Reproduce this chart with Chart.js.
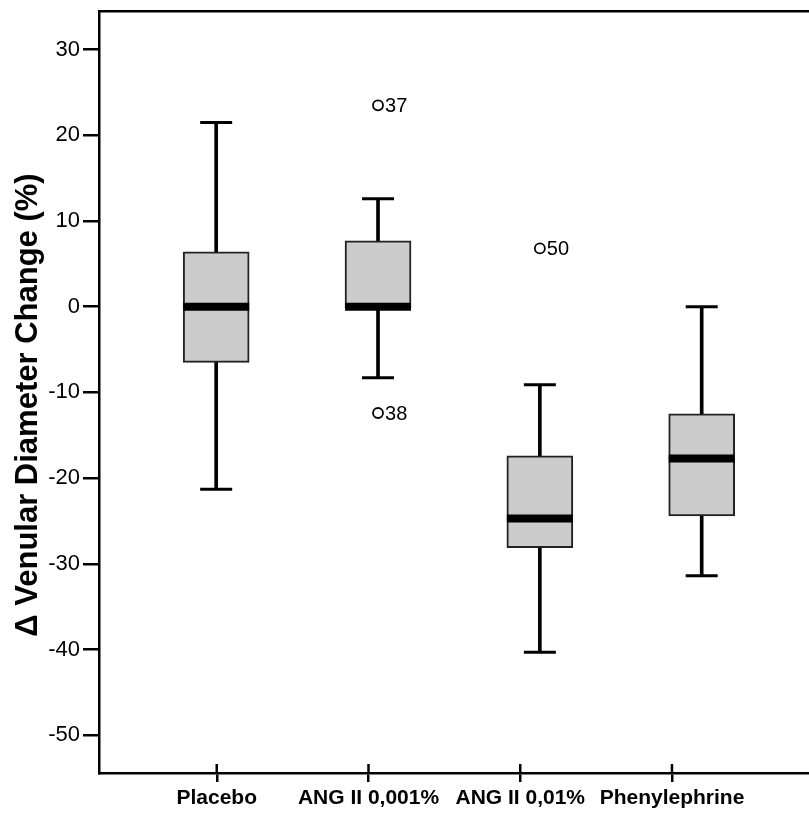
<!DOCTYPE html>
<html>
<head>
<meta charset="utf-8">
<script src="https://cdn.jsdelivr.net/npm/chart.js@4"></script>
<style>
    body { margin: 0; background: #fff; overflow: hidden; }
    .chart-box { width: 809px; height: 814px; }
</style>
</head>
<body>
<div class="chart-box"><canvas class="chart"></canvas></div>
<script>
// ----------data----------//
const groups = ['Placebo', 'ANG II 0,001%', 'ANG II 0,01%', 'Phenylephrine'];
const groupTicks = [1, 2, 3, 4];
const whiskerLow = [-21.3, -8.3, -40.3, -31.4];
const q1 = [-6.5, -0.1, -28.1, -24.4];
const median = [0, 0, -24.7, -17.7];
const q3 = [6.4, 7.7, -17.4, -12.5];
const whiskerHigh = [21.5, 12.6, -9.1, 0];
const outlierGroup = [2, 2, 3];
const outlierValue = [23.5, -12.4, 6.8];
const outlierLabel = ['37', '38', '50'];
const yTicks = [30, 20, 10, 0, -10, -20, -30, -40, -50];
const yTitle = '\u0394 Venular Diameter Change (%)';

const boxPos = groups.map((g, i) => i + 1);
const font = '"Liberation Sans", Arial, sans-serif';

//-----plugin: y title, inner half of the x tick marks, outlier case numbers-----//
const extraDraw = {
    id: 'extraDraw',
    afterDatasetsDraw(chart) {
        const ctx = chart.ctx;
        const meta = chart.getDatasetMeta(4);
        ctx.save();
        ctx.fillStyle = '#000';
        ctx.font = '20px ' + font;
        ctx.textAlign = 'left';
        ctx.textBaseline = 'middle';
        meta.data.forEach((el, i) => {
            ctx.fillText(outlierLabel[i], el.x + 7, el.y + 1);
        });
        ctx.restore();
    },
    afterDraw(chart) {
        const ctx = chart.ctx, xs = chart.scales.x, area = chart.chartArea;
        ctx.save();
        ctx.strokeStyle = '#000';
        ctx.lineWidth = 2.5;
        xs.ticks.forEach(t => {
            const px = xs.getPixelForValue(t.value);
            ctx.beginPath();
            ctx.moveTo(px, area.bottom - 9);
            ctx.lineTo(px, area.bottom);
            ctx.stroke();
        });
        // axis title, sits a little below the middle of the plot like the original
        ctx.translate(28, (area.top + area.bottom) / 2 + 13);
        ctx.rotate(-Math.PI / 2);
        ctx.fillStyle = '#000';
        ctx.font = 'bold 31px ' + font;
        ctx.textAlign = 'center';
        ctx.textBaseline = 'middle';
        ctx.fillText(yTitle, 0, 0);
        ctx.restore();
    }
};

const ctx = document.querySelector('.chart').getContext('2d');
const myChart = new Chart(ctx, {
    type: 'bar',
    data: {
        datasets: [{
            // whisker stems
            type: 'bar',
            xAxisID: 'xb',
            data: boxPos.map((x, i) => ({ x: x, y: [whiskerLow[i], whiskerHigh[i]] })),
            barThickness: 3,
            backgroundColor: '#000',
            grouped: false,
            order: 5
        }, {
            // boxes
            type: 'bar',
            xAxisID: 'xb',
            data: boxPos.map((x, i) => ({ x: x, y: [q1[i], q3[i]] })),
            barThickness: 66,
            backgroundColor: '#cccccc',
            borderColor: '#222',
            borderWidth: 2,
            borderSkipped: false,
            grouped: false,
            order: 4
        }, {
            // whisker caps
            type: 'scatter',
            xAxisID: 'xb',
            data: boxPos.flatMap((x, i) => [{ x: x, y: whiskerLow[i] }, { x: x, y: whiskerHigh[i] }]),
            pointStyle: 'line',
            pointRadius: 16,
            pointBorderWidth: 3,
            pointBorderColor: '#000',
            order: 3
        }, {
            // medians
            type: 'scatter',
            xAxisID: 'xb',
            data: boxPos.map((x, i) => ({ x: x, y: median[i] })),
            pointStyle: 'line',
            pointRadius: 33,
            pointBorderWidth: 8,
            pointBorderColor: '#000',
            order: 2
        }, {
            // outliers
            type: 'scatter',
            xAxisID: 'xb',
            data: outlierGroup.map((g, i) => ({ x: g, y: outlierValue[i] })),
            pointStyle: 'circle',
            pointRadius: 5,
            pointBorderWidth: 1.8,
            pointBorderColor: '#000',
            pointBackgroundColor: '#fff',
            order: 1
        }]
    },
    options: {
        responsive: true,
        maintainAspectRatio: false,
        animation: false,
        layout: { autoPadding: false, padding: { top: 11, left: 0, right: 0, bottom: 0 } },
        plugins: { legend: { display: false }, tooltip: { enabled: false } },
        scales: {
            x: {
                type: 'linear',
                position: 'bottom',
                offset: false,
                min: 0.224,
                max: 4.903,
                afterBuildTicks: s => { s.ticks = groupTicks.map(v => ({ value: v })) },
                afterFit: s => { s.height = 41; s.paddingLeft = 0; s.paddingRight = 0 },
                ticks: {
                    autoSkip: false,
                    maxRotation: 0,
                    padding: 4,
                    color: '#000',
                    font: { family: font, size: 21, weight: 'bold' },
                    callback: v => groups[groupTicks.indexOf(v)]
                },
                grid: { display: true, offset: false, drawOnChartArea: false, tickLength: 9, color: '#000', lineWidth: 2.5 },
                border: { color: '#000', width: 2.5 }
            },
            xb: {
                type: 'linear',
                position: 'top',
                offset: false,
                min: 0.276,
                max: 4.663,
                afterFit: s => { s.height = 0; s.paddingLeft = 0; s.paddingRight = 0 },
                ticks: { display: false },
                grid: { display: true, offset: false, drawOnChartArea: false, drawTicks: false },
                border: { color: '#000', width: 2.5 }
            },
            y: {
                type: 'linear',
                min: -54.4,
                max: 34.5,
                afterBuildTicks: s => { s.ticks = yTicks.map(v => ({ value: v })) },
                afterFit: s => { s.width = 99; s.paddingTop = 0; s.paddingBottom = 0 },
                ticks: {
                    padding: 3,
                    color: '#000',
                    font: { family: font, size: 22 }
                },
                grid: { display: true, drawOnChartArea: false, tickLength: 16, color: '#000', lineWidth: 2.5 },
                border: { color: '#000', width: 2.5 },
                title: { display: false }
            }
        }
    },
    plugins: [extraDraw]
});
</script>
</body>
</html>
